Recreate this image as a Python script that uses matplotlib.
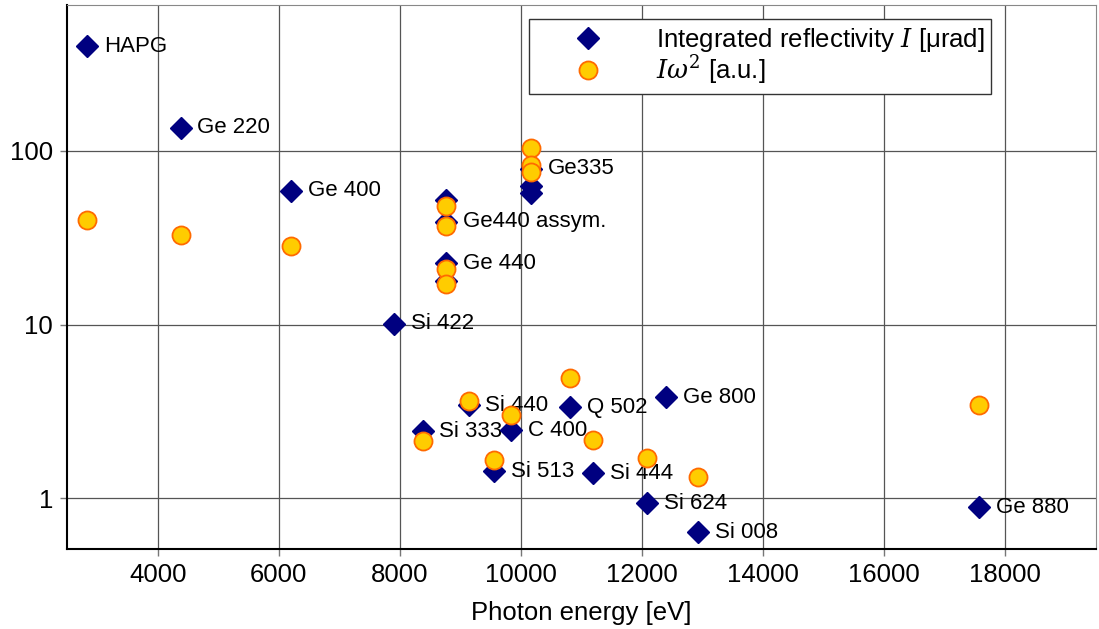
import numpy as np
import matplotlib
matplotlib.use('Agg')
import matplotlib.pyplot as plt
from matplotlib.ticker import FuncFormatter, NullLocator

plt.rcParams['font.family'] = ['Liberation Sans', 'DejaVu Sans']
plt.rcParams['mathtext.fontset'] = 'dejavuserif'

# integrated reflectivity I [urad]
energy_I = [2830, 4380, 6200, 8770, 8770, 8770, 8770, 10175, 10175, 10175, 7910,
            8375, 9135, 9845, 9564, 10819, 11198, 12404, 12090, 12932, 17571]
refl_I = [400, 136, 58.8, 52, 39, 22.5, 17.9, 79, 63, 57, 10.1,
          2.43, 3.44, 2.47, 1.43, 3.35, 1.39, 3.82, 0.935, 0.637, 0.887]
names = ['HAPG', 'Ge 220', 'Ge 400', '', 'Ge440 assym.', 'Ge 440', '', 'Ge335', '', '', 'Si 422',
         'Si 333', 'Si 440', 'C 400', 'Si 513', 'Q 502', 'Si 444', 'Ge 800', 'Si 624', 'Si 008', 'Ge 880']

# I * omega^2 [a.u.]
energy_w = [2830, 4380, 6200, 8770, 8770, 8770, 8770, 10175, 10175, 10175,
            8375, 9135, 9845, 9564, 10819, 11198, 12090, 12932, 17571]
refl_w = [40, 32.8, 28.3, 48, 37, 21, 17.2, 104, 83, 75,
          2.13, 3.62, 3.0, 1.66, 4.92, 2.16, 1.70, 1.32, 3.44]

fig = plt.figure(figsize=(10.99, 6.29), dpi=100)
ax = fig.add_axes([0.061, 0.127, 0.936, 0.865])

ax.plot(energy_I, refl_I, ls='none', marker='D', ms=11.5, color='#000080',
        mec='#000080', zorder=3, label='Integrated reflectivity $I$ [μrad]')
ax.plot(energy_w, refl_w, ls='none', marker='o', ms=13, mfc='#ffcc00',
        mec='#ff6a00', mew=1.3, zorder=4, label=r'$I\omega^2$ [a.u.]')

for e, v, n in zip(energy_I, refl_I, names):
    if n:
        ax.annotate(n, (e, v), xytext=(12, 0), textcoords='offset points',
                    va='center', ha='left', fontsize=16, zorder=2)

ax.set_yscale('log')
ax.set_xlim(2500, 19500)
ax.set_ylim(0.51, 690)
ax.set_xticks(np.arange(4000, 18001, 2000))
ax.set_yticks([1, 10, 100])
ax.yaxis.set_minor_locator(NullLocator())
ax.yaxis.set_major_formatter(FuncFormatter(lambda v, p: '%g' % v))
ax.tick_params(labelsize=18.5, length=5, width=1, color='#777777', pad=5)
ax.grid(True, color='#555555', lw=0.9)
ax.set_axisbelow(True)
ax.set_xlabel('Photon energy [eV]', fontsize=18.5, labelpad=10)

for s in ['top', 'right']:
    ax.spines[s].set_color('#888888')
for s in ['left', 'bottom']:
    ax.spines[s].set_color('black')
    ax.spines[s].set_linewidth(1.5)

leg = ax.legend(loc='upper right', bbox_to_anchor=(0.898, 0.974), fontsize=18.5,
                frameon=True, fancybox=False, framealpha=1, edgecolor='#333333',
                handletextpad=0.6, handlelength=4.1, labelspacing=0.0,
                borderpad=0.25, borderaxespad=0)
leg.get_frame().set_linewidth(1.0)

fig.savefig('out.png', dpi=100)
